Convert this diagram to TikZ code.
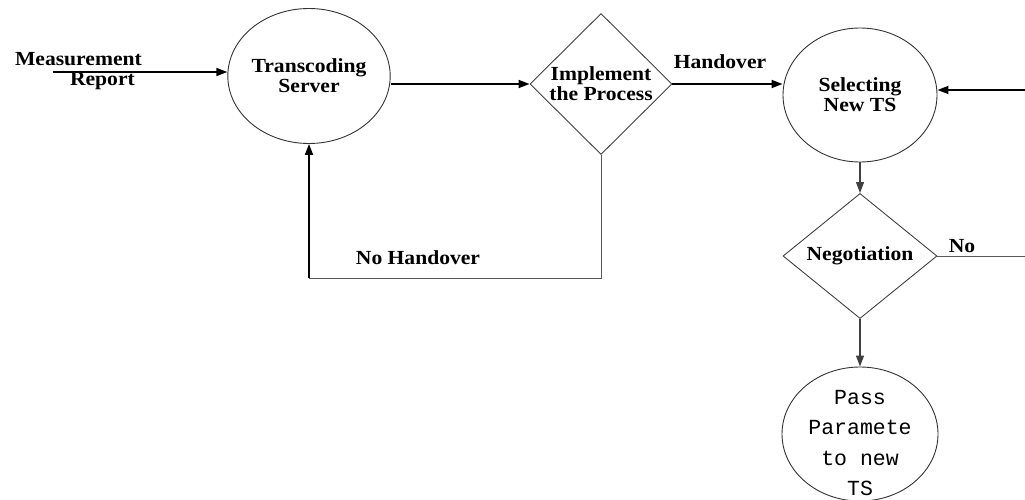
\documentclass[tikz,border=0pt]{standalone}
\usepackage{fontspec}
\setmainfont{Liberation Serif}[FakeStretch=1.08]
\setmonofont{Liberation Mono}
\usepackage{tikz}
\usetikzlibrary{shapes.geometric, arrows.meta}

\begin{document}
\begin{tikzpicture}[x=1pt, y=-1pt,
    every node/.style={font=\fontsize{20}{20}\selectfont\bfseries, align=center, inner sep=0pt},
    proc/.style={ellipse, draw=black!80, line width=0.9pt},
    decide/.style={diamond, draw=black!75, line width=0.9pt},
    flow/.style={line width=1.7pt, -{Triangle[length=11pt, width=8pt]}},
    thinflow/.style={line width=1.2pt, black!75, -{Triangle[length=11pt, width=8pt]}},
    plain/.style={line width=1pt, black!65}]
    \useasboundingbox (0, 0) rectangle (1025, 500);

    % The processes and decisions
    \node[proc, minimum width=155pt, minimum height=135pt] (ts) at (309, 76) {Transcoding\\Server};
    \node[decide, minimum width=142pt, minimum height=141pt] (impl) at (601, 84) {Implement\\the Process};
    \node[proc, minimum width=154pt, minimum height=134pt] (sel) at (860, 95) {Selecting\\New TS};
    \node[decide, minimum width=154pt, minimum height=114pt] (neg) at (860, 256) {Negotiation};
    \node[proc, minimum width=156pt, minimum height=134pt,
        label={[yshift=-9pt, font=\fontsize{21.5}{30.5}\selectfont\ttfamily, align=center]center:Pass\\Paramete\\to new\\TS}]
        (pass) at (860, 434) {};

    % Measurement report coming in
    \node[anchor=east, align=right] (mr) at (142, 71) {Measurement\\Report\hspace*{7pt}};
    \coordinate (in) at (53, 72);
    \draw[flow] (in) -- (in -| ts.west);

    % Main path
    \draw[flow] (ts.east |- impl.west) -- (impl.west);
    \draw[flow] (impl.east) -- (impl.east -| sel.west);
    \node (hand) at (720, 62) {Handover};
    \draw[thinflow] (sel.south) -- (neg.north);
    \draw[thinflow] (neg.south) -- (pass.north);

    % No handover loop
    \coordinate (loopr) at (601, 278);
    \coordinate (loopl) at (309, 278);
    \draw[plain] (impl.south) -- (loopr) -- (loopl);
    \draw[flow] (loopl) -- (ts.south);
    \node (nohand) at (418, 258) {No Handover};

    % Negotiation fails
    \coordinate (noend) at (1025, 256);
    \draw[plain] (neg.east) -- (noend);
    \node (no) at (962, 246) {No};
    \coordinate (back) at (1025, 90);
    \draw[flow] (back) -- (back -| sel.east);
\end{tikzpicture}
\end{document}
